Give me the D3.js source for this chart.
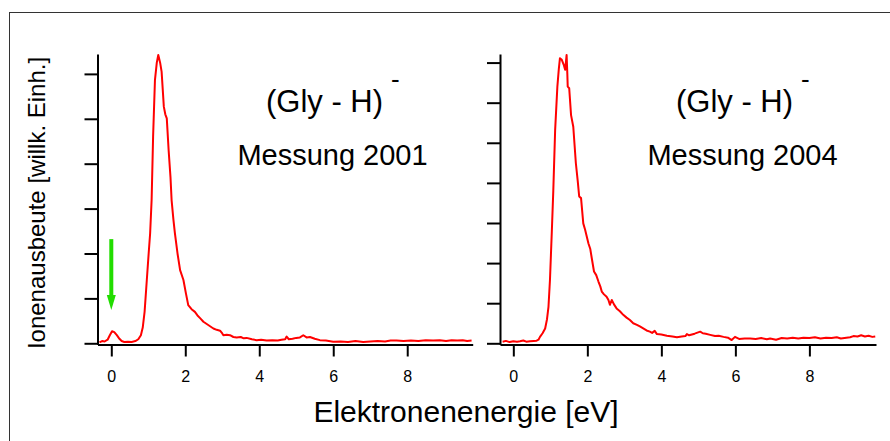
<!DOCTYPE html>
<html><head><meta charset="utf-8">
<script src="https://cdn.jsdelivr.net/npm/d3@7"></script>
<style>body{margin:0;background:#fff}svg{display:block}text{font-family:"Liberation Sans",Arial,sans-serif;fill:#000}</style>
</head><body>
<script>
const energy2001=[-0.32,-0.25,-0.18,-0.1,-0.04,0.02,0.08,0.15,0.22,0.28,0.35,0.45,0.55,0.65,0.73,0.8,0.85,0.9,0.96,1.01,1.05,1.09,1.13,1.18,1.23,1.27,1.32,1.36,1.42,1.46,1.5,1.55,1.6,1.63,1.68,1.72,1.79,1.86,1.95,2.02,2.08,2.17,2.26,2.33,2.4,2.49,2.58,2.67,2.76,2.85,2.94,3.0,3.03,3.12,3.21,3.3,3.39,3.5,3.58,3.66,3.8,3.93,4.05,4.2,4.35,4.5,4.6,4.7,4.74,4.8,4.9,5.0,5.1,5.19,5.28,5.37,5.5,5.64,5.8,6.0,6.2,6.4,6.6,6.81,7.0,7.2,7.4,7.55,7.71,7.9,8.1,8.3,8.5,8.7,8.88,9.05,9.2,9.35,9.5,9.62,9.74];
const yield2001=[0.02,0.05,0.04,0.08,0.18,0.27,0.25,0.18,0.1,0.05,0.03,0.035,0.03,0.05,0.09,0.18,0.35,0.7,1.41,2.0,2.45,3.19,4.6,5.86,6.25,6.42,6.25,6.05,5.27,5.1,5.01,4.3,3.7,3.19,2.75,2.45,2.0,1.63,1.41,1.1,0.85,0.76,0.7,0.62,0.56,0.48,0.43,0.38,0.33,0.3,0.28,0.22,0.18,0.19,0.18,0.14,0.13,0.14,0.11,0.12,0.09,0.07,0.08,0.06,0.07,0.06,0.08,0.09,0.15,0.09,0.1,0.12,0.13,0.18,0.13,0.14,0.1,0.07,0.06,0.035,0.04,0.03,0.05,0.03,0.04,0.05,0.04,0.06,0.06,0.05,0.06,0.05,0.07,0.06,0.07,0.05,0.07,0.06,0.07,0.05,0.06];
const energy2004=[-0.29,-0.2,-0.1,0.0,0.1,0.18,0.27,0.35,0.45,0.55,0.63,0.68,0.72,0.79,0.86,0.91,0.95,0.99,1.04,1.08,1.13,1.19,1.23,1.26,1.31,1.36,1.4,1.42,1.44,1.46,1.47,1.51,1.56,1.62,1.69,1.74,1.78,1.83,1.89,1.94,2.03,2.08,2.12,2.18,2.24,2.3,2.35,2.39,2.45,2.52,2.57,2.61,2.66,2.72,2.79,2.88,2.97,3.06,3.15,3.24,3.34,3.42,3.51,3.6,3.69,3.75,3.82,3.88,4.0,4.15,4.3,4.42,4.55,4.65,4.69,4.75,4.9,5.05,5.12,5.2,5.32,5.45,5.55,5.68,5.8,5.9,5.99,6.1,6.25,6.4,6.55,6.7,6.85,6.94,7.1,7.25,7.4,7.55,7.7,7.84,8.0,8.15,8.3,8.45,8.6,8.74,8.85,9.0,9.1,9.19,9.3,9.4,9.5,9.6,9.7,9.78];
const yield2004=[0.04,0.06,0.03,0.05,0.04,0.05,0.07,0.04,0.05,0.06,0.065,0.09,0.16,0.25,0.37,0.6,0.91,1.58,2.78,3.8,5.32,6.4,6.85,7.11,7.07,6.95,6.82,7.0,7.19,6.7,6.4,6.36,5.69,5.4,4.49,4.05,3.66,3.62,2.99,2.83,2.49,2.35,2.12,1.79,1.7,1.54,1.42,1.29,1.22,1.16,1.08,0.96,1.08,0.97,0.87,0.8,0.71,0.64,0.58,0.5,0.46,0.42,0.37,0.32,0.29,0.26,0.31,0.23,0.22,0.19,0.17,0.15,0.17,0.18,0.23,0.2,0.24,0.29,0.25,0.24,0.21,0.18,0.19,0.16,0.14,0.08,0.16,0.11,0.12,0.12,0.11,0.13,0.1,0.12,0.09,0.13,0.12,0.14,0.12,0.14,0.13,0.15,0.12,0.14,0.13,0.15,0.12,0.14,0.15,0.18,0.17,0.2,0.17,0.19,0.16,0.17];
const xTicks=[0,2,4,6,8];
const yTicks2001=[0,1,2,3,4,5,6];
const yTicks2004=[0,1,2,3,4,5,6,7];
const titleText="(Gly - H)";
const chargeText="-";
const label2001="Messung 2001";
const label2004="Messung 2004";
const xLabel="Elektronenenergie [eV]";
const yLabel="Ionenausbeute [willk. Einh.]";
const arrowX=0, arrowTop=2.32, arrowTip=0.74;

const W=890,H=441;
const svg=d3.select("body").append("svg").attr("width",W).attr("height",H);
svg.append("rect").attr("x",9.5).attr("y",12.5).attr("width",1000).attr("height",1000)
  .attr("fill","none").attr("stroke","#333").attr("stroke-width",1);

function panel(cfg){
  const x=d3.scaleLinear().domain(cfg.xd).range(cfg.xr);
  const y=d3.scaleLinear().domain(cfg.yd).range([344.5,54]);
  const g=svg.append("g");
  const ya=g.append("g").attr("transform",`translate(${cfg.xr[0]},0)`)
    .call(d3.axisLeft(y).tickValues(cfg.yt).tickSize(13).tickSizeOuter(0).tickFormat(""));
  const xa=g.append("g").attr("transform",`translate(0,344.5)`)
    .call(d3.axisBottom(x).tickValues(xTicks).tickSize(12).tickSizeOuter(0).tickPadding(14).tickFormat(d3.format("d")));
  [ya,xa].forEach(a=>{a.select(".domain").attr("stroke","#000").attr("stroke-width",2);
    a.selectAll(".tick line").attr("stroke","#000").attr("stroke-width",2);});
  xa.selectAll(".tick text").attr("font-size",16).attr("font-family","Liberation Sans, Arial, sans-serif").attr("fill","#000");
  const data=cfg.ex.map((e,i)=>[e,cfg.yv[i]]);
  g.append("path").datum(data).attr("fill","none").attr("stroke","#ff0000").attr("stroke-width",2)
    .attr("stroke-linejoin","round")
    .attr("d",d3.line().x(d=>x(d[0])).y(d=>y(d[1])));
  g.append("text").attr("x",cfg.tx).attr("y",112).attr("font-size",31).text(titleText);
  g.append("text").attr("x",cfg.tx+125).attr("y",88).attr("font-size",26).text(chargeText);
  g.append("text").attr("x",cfg.mx).attr("y",165).attr("font-size",29).attr("text-anchor","middle").text(cfg.label);
  return {x,y,g};
}
const p1=panel({xd:[-0.373,9.77],xr:[97.5,472.7],yd:[-0.027,6.443],yt:yTicks2001,ex:energy2001,yv:yield2001,tx:266,mx:332.5,label:label2001});
const p2=panel({xd:[-0.36,9.80],xr:[500,876],yd:[-0.03,7.214],yt:yTicks2004,ex:energy2004,yv:yield2004,tx:676,mx:742.5,label:label2004});

// green arrow
const ax=p1.x(arrowX), at=p1.y(arrowTop), ap=p1.y(arrowTip);
svg.append("rect").attr("x",ax-2).attr("y",at).attr("width",4).attr("height",(ap-15)-at).attr("fill","#22dd00");
svg.append("path").attr("d",`M${ax-4.5},${ap-15}L${ax+4.5},${ap-15}L${ax},${ap}Z`).attr("fill","#22dd00");

svg.append("text").attr("transform","translate(44.6,203) rotate(-90)").attr("text-anchor","middle").attr("font-size",24).text(yLabel);
svg.append("text").attr("x",466).attr("y",422).attr("text-anchor","middle").attr("font-size",30).text(xLabel);
</script>
</body></html>
